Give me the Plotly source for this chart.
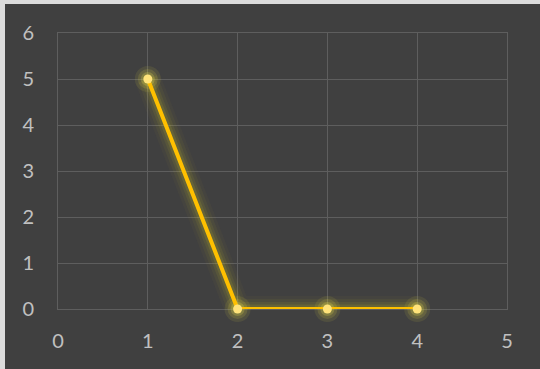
import plotly.graph_objects as go

x_vals = [1, 2, 3, 4]
y_vals = [5, 0, 0, 0]
x_ticks = [0, 1, 2, 3, 4, 5]
y_ticks = [0, 1, 2, 3, 4, 5, 6]

W, H = 540, 369
L, R, T, B = 58, 33, 33, 60
pw, ph = W - L - R, H - T - B

def px(xp):
    return (xp - L) / pw

def py(yp):
    return (H - B - yp) / ph

fig = go.Figure()

# glow layers
for w, a in [(26, 0.04), (20, 0.06), (14, 0.09), (9, 0.14)]:
    fig.add_trace(go.Scatter(x=x_vals, y=y_vals, mode="lines", cliponaxis=False,
                             line=dict(color=f"rgba(200,190,40,{a})", width=w),
                             hoverinfo="skip", showlegend=False))
for s, a in [(26, 0.1), (20, 0.15), (14, 0.25)]:
    fig.add_trace(go.Scatter(x=x_vals, y=y_vals, mode="markers", cliponaxis=False,
                             marker=dict(color=f"rgba(225,215,70,{a})", size=s, line=dict(width=0)),
                             hoverinfo="skip", showlegend=False))

fig.add_trace(go.Scatter(x=x_vals, y=y_vals, mode="lines+markers", cliponaxis=False,
                         line=dict(color="#FFC000", width=4),
                         marker=dict(color="#FFE37A", size=9, line=dict(width=0)),
                         showlegend=False))

axis_common = dict(showgrid=True, gridcolor="#5e5e5e", gridwidth=1,
                   zeroline=False, showline=True, linecolor="#5e5e5e", linewidth=1,
                   mirror=True, automargin=False, layer="below traces",
                   tickfont=dict(family="Lato", size=20, color="#c0c0c0"),
                   ticks="outside", tickcolor="rgba(0,0,0,0)", fixedrange=True)

fig.update_xaxes(range=[0, 5], tickvals=x_ticks, ticklen=14, **axis_common)
fig.update_yaxes(range=[0, 6], tickvals=y_ticks, ticklen=19, **axis_common)

# top and left light strips (outer frame)
fig.add_shape(type="rect", xref="paper", yref="paper",
              x0=px(0), x1=px(5), y0=py(H), y1=py(0),
              fillcolor="#dcdcdc", line=dict(width=0), layer="below")
fig.add_shape(type="rect", xref="paper", yref="paper",
              x0=px(0), x1=px(W), y0=py(4), y1=py(0),
              fillcolor="#dcdcdc", line=dict(width=0), layer="below")

fig.update_layout(width=W, height=H,
                  margin=dict(l=L, r=R, t=T, b=B),
                  paper_bgcolor="#404040", plot_bgcolor="#404040")

fig.write_html("out.html", config={"displayModeBar": False},
               post_script="document.body.style.margin='0';document.body.style.overflow='hidden';")
